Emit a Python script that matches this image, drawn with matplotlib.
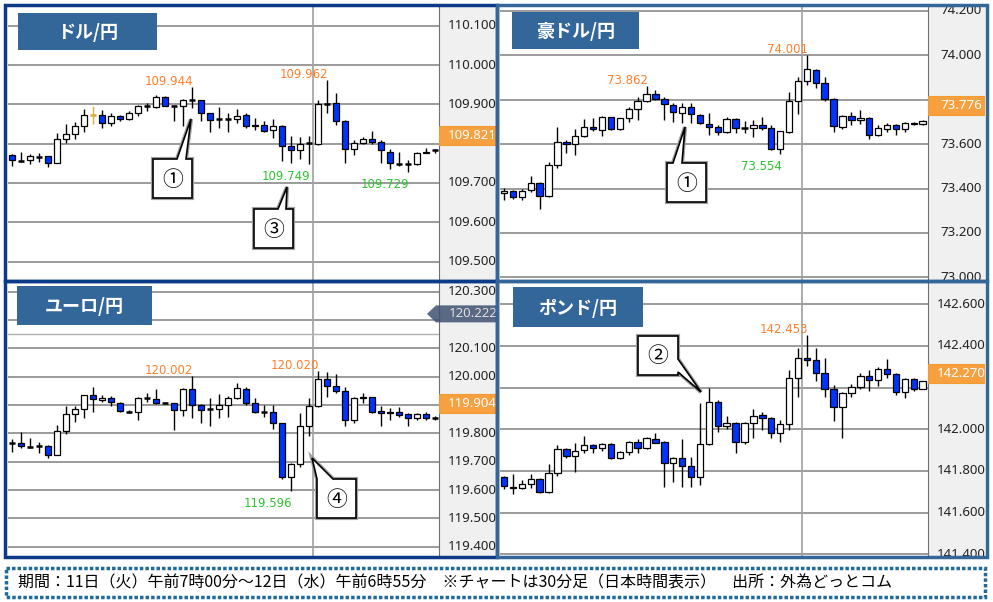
import matplotlib
matplotlib.use('Agg')
import matplotlib.pyplot as plt
from matplotlib.patches import Rectangle, Polygon
from matplotlib.transforms import Affine2D

plt.rcParams['font.family'] = ['Noto Sans CJK JP', 'DejaVu Sans']

# ---- data (30 min bars, 11th 7:00 -> 12th 6:30) ----
usd_o = [109.771, 109.757, 109.759, 109.767, 109.769, 109.750, 109.812, 109.825, 109.844, 109.873,
         109.873, 109.852, 109.871, 109.862, 109.878, 109.895, 109.893, 109.920, 109.895, 109.895,
         109.912, 109.910, 109.878, 109.862, 109.862, 109.862, 109.872, 109.844, 109.848, 109.835,
         109.844, 109.794, 109.783, 109.802, 109.800, 109.901, 109.903, 109.859, 109.786, 109.803,
         109.811, 109.805, 109.780, 109.748, 109.748, 109.748, 109.777, 109.783]
usd_h = [109.774, 109.780, 109.774, 109.777, 109.769, 109.827, 109.850, 109.854, 109.888, 109.895,
         109.886, 109.879, 109.873, 109.882, 109.899, 109.903, 109.924, 109.922, 109.899, 109.913,
         109.944, 109.912, 109.879, 109.893, 109.878, 109.889, 109.878, 109.865, 109.859, 109.862,
         109.848, 109.820, 109.816, 109.820, 109.912, 109.962, 109.929, 109.861, 109.810, 109.818,
         109.833, 109.810, 109.786, 109.780, 109.759, 109.780, 109.789, 109.786]
usd_l = [109.744, 109.754, 109.748, 109.754, 109.740, 109.750, 109.802, 109.811, 109.831, 109.850,
         109.839, 109.844, 109.859, 109.861, 109.871, 109.882, 109.890, 109.895, 109.859, 109.845,
         109.890, 109.859, 109.831, 109.839, 109.831, 109.852, 109.839, 109.835, 109.831, 109.814,
         109.756, 109.752, 109.760, 109.749, 109.797, 109.878, 109.848, 109.752, 109.771, 109.800,
         109.800, 109.752, 109.735, 109.744, 109.729, 109.746, 109.776, 109.777]
usd_c = [109.758, 109.757, 109.769, 109.767, 109.750, 109.812, 109.825, 109.844, 109.873, 109.873,
         109.852, 109.871, 109.862, 109.878, 109.895, 109.895, 109.920, 109.896, 109.895, 109.912,
         109.912, 109.878, 109.861, 109.862, 109.862, 109.871, 109.844, 109.848, 109.833, 109.844,
         109.794, 109.783, 109.800, 109.802, 109.901, 109.901, 109.859, 109.786, 109.802, 109.811,
         109.805, 109.783, 109.750, 109.748, 109.748, 109.776, 109.780, 109.783]
usd_marked = 9

aud_o = [73.378, 73.390, 73.363, 73.393, 73.426, 73.366, 73.506, 73.611, 73.601, 73.637,
         73.679, 73.664, 73.721, 73.667, 73.716, 73.757, 73.796, 73.826, 73.805, 73.776,
         73.742, 73.766, 73.731, 73.691, 73.679, 73.656, 73.712, 73.671, 73.674, 73.686,
         73.674, 73.577, 73.656, 73.796, 73.886, 73.934, 73.874, 73.805, 73.676, 73.727,
         73.709, 73.716, 73.641, 73.667, 73.686, 73.667, 73.697, 73.691]
aud_h = [73.401, 73.393, 73.396, 73.456, 73.431, 73.521, 73.679, 73.619, 73.667, 73.712,
         73.716, 73.727, 73.724, 73.716, 73.769, 73.814, 73.862, 73.844, 73.811, 73.784,
         73.784, 73.787, 73.736, 73.739, 73.686, 73.721, 73.716, 73.706, 73.709, 73.721,
         73.686, 73.661, 73.836, 73.901, 74.001, 73.937, 73.901, 73.808, 73.731, 73.746,
         73.754, 73.721, 73.686, 73.697, 73.691, 73.701, 73.701, 73.709]
aud_l = [73.348, 73.351, 73.348, 73.386, 73.306, 73.363, 73.491, 73.562, 73.551, 73.634,
         73.661, 73.637, 73.664, 73.664, 73.701, 73.709, 73.791, 73.799, 73.709, 73.701,
         73.694, 73.694, 73.691, 73.641, 73.641, 73.649, 73.652, 73.652, 73.634, 73.664,
         73.574, 73.554, 73.652, 73.736, 73.866, 73.851, 73.796, 73.656, 73.667, 73.686,
         73.691, 73.622, 73.637, 73.656, 73.641, 73.656, 73.686, 73.686]
aud_c = [73.390, 73.363, 73.390, 73.426, 73.366, 73.506, 73.611, 73.601, 73.637, 73.679,
         73.667, 73.721, 73.667, 73.716, 73.757, 73.796, 73.826, 73.802, 73.779, 73.746,
         73.766, 73.736, 73.694, 73.679, 73.656, 73.712, 73.671, 73.671, 73.686, 73.674,
         73.577, 73.661, 73.796, 73.886, 73.937, 73.877, 73.802, 73.682, 73.727, 73.709,
         73.716, 73.641, 73.671, 73.686, 73.667, 73.697, 73.691, 73.706]

eur_o = [119.765, 119.767, 119.751, 119.755, 119.755, 119.724, 119.809, 119.867, 119.885, 119.934,
         119.918, 119.924, 119.908, 119.876, 119.876, 119.924, 119.920, 119.908, 119.908, 119.882,
         119.956, 119.900, 119.885, 119.885, 119.900, 119.924, 119.955, 119.906, 119.875, 119.876,
         119.835, 119.647, 119.692, 119.827, 119.898, 119.991, 119.967, 119.949, 119.849, 119.924,
         119.927, 119.879, 119.873, 119.876, 119.867, 119.853, 119.867, 119.856]
eur_h = [119.779, 119.806, 119.782, 119.771, 119.759, 119.829, 119.896, 119.896, 119.934, 119.965,
         119.935, 119.932, 119.912, 119.882, 119.927, 119.941, 119.955, 119.912, 119.908, 119.959,
         120.002, 119.904, 119.924, 119.939, 119.932, 119.979, 119.962, 119.924, 119.900, 119.900,
         119.835, 119.694, 119.871, 119.924, 120.020, 120.018, 120.009, 119.962, 119.929, 119.941,
         119.929, 119.896, 119.888, 119.894, 119.871, 119.871, 119.876, 119.861]
eur_l = [119.735, 119.747, 119.747, 119.729, 119.712, 119.724, 119.798, 119.841, 119.856, 119.876,
         119.912, 119.896, 119.876, 119.871, 119.847, 119.912, 119.904, 119.904, 119.812, 119.861,
         119.853, 119.838, 119.826, 119.853, 119.859, 119.920, 119.900, 119.873, 119.859, 119.814,
         119.638, 119.596, 119.680, 119.791, 119.892, 119.929, 119.941, 119.826, 119.838, 119.908,
         119.873, 119.826, 119.847, 119.859, 119.826, 119.849, 119.849, 119.847]
eur_c = [119.765, 119.756, 119.751, 119.755, 119.724, 119.809, 119.867, 119.885, 119.934, 119.920,
         119.924, 119.911, 119.879, 119.876, 119.924, 119.924, 119.906, 119.908, 119.882, 119.956,
         119.900, 119.882, 119.885, 119.900, 119.924, 119.959, 119.906, 119.875, 119.875, 119.835,
         119.647, 119.692, 119.827, 119.898, 119.991, 119.967, 119.949, 119.849, 119.924, 119.929,
         119.874, 119.871, 119.876, 119.865, 119.853, 119.867, 119.856, 119.856]
eur_extra_line = 120.150

gbp_o = [141.773, 141.725, 141.717, 141.738, 141.760, 141.698, 141.792, 141.904, 141.872, 141.901,
         141.923, 141.909, 141.930, 141.861, 141.890, 141.941, 141.909, 141.952, 141.938, 141.837,
         141.861, 141.824, 141.770, 141.928, 142.130, 142.016, 142.032, 141.938, 142.029, 142.069,
         142.053, 141.981, 142.024, 142.245, 142.341, 142.333, 142.269, 142.192, 142.106, 142.176,
         142.205, 142.258, 142.237, 142.288, 142.264, 142.178, 142.242, 142.192]
gbp_h = [141.776, 141.786, 141.757, 141.786, 141.765, 141.834, 141.925, 141.909, 141.933, 141.968,
         141.930, 141.933, 141.933, 141.894, 141.946, 141.952, 141.965, 141.981, 141.944, 141.869,
         141.952, 141.869, 142.125, 142.197, 142.141, 142.064, 142.037, 142.037, 142.098, 142.085,
         142.058, 142.045, 142.285, 142.389, 142.453, 142.389, 142.341, 142.213, 142.181, 142.218,
         142.272, 142.285, 142.298, 142.336, 142.269, 142.248, 142.248, 142.234]
gbp_l = [141.712, 141.688, 141.712, 141.717, 141.693, 141.693, 141.778, 141.861, 141.794, 141.885,
         141.888, 141.898, 141.856, 141.859, 141.877, 141.885, 141.904, 141.933, 141.725, 141.749,
         141.722, 141.722, 141.733, 141.925, 141.989, 142.000, 141.888, 141.928, 141.957, 141.997,
         141.957, 141.941, 141.997, 142.154, 142.304, 142.234, 142.154, 142.042, 141.960, 142.157,
         142.194, 142.184, 142.208, 142.245, 142.165, 142.149, 142.186, 142.192]
gbp_c = [141.728, 141.717, 141.738, 141.760, 141.698, 141.792, 141.904, 141.872, 141.898, 141.923,
         141.909, 141.930, 141.861, 141.890, 141.941, 141.909, 141.957, 141.936, 141.837, 141.861,
         141.824, 141.770, 141.928, 142.130, 142.016, 142.029, 141.938, 142.029, 142.066, 142.053,
         141.981, 142.024, 142.245, 142.341, 142.333, 142.269, 142.192, 142.106, 142.176, 142.205,
         142.258, 142.237, 142.288, 142.266, 142.178, 142.242, 142.192, 142.234]

# high / low markers: (bar index, price)
usd_highs = [(20, 109.944), (35, 109.962)]
usd_lows = [(33, 109.749), (44, 109.729)]
aud_highs = [(16, 73.862), (34, 74.001)]
aud_lows = [(31, 73.554)]
eur_highs = [(20, 120.002), (34, 120.020)]
eur_lows = [(31, 119.596)]
gbp_highs = [(34, 142.453)]
gbp_lows = []

usd_ticks = [109.5, 109.6, 109.7, 109.8, 109.9, 110.0, 110.1]
aud_ticks = [73.0, 73.2, 73.4, 73.6, 73.8, 74.0, 74.2]
eur_ticks = [119.4, 119.5, 119.6, 119.7, 119.8, 119.9, 120.0, 120.1, 120.2, 120.3]
gbp_ticks = [141.4, 141.6, 141.8, 142.0, 142.2, 142.4, 142.6]

usd_last = 109.821
aud_last = 73.776
eur_last = 119.904
gbp_last = 142.270
eur_ask = 120.222

footer = "期間：11日（火）午前7時00分～12日（水）午前6時55分　※チャートは30分足（日本時間表示）　出所：外為どっとコム"

# ---- drawing ----
W, H = 993, 602
fig = plt.figure(figsize=(W / 100, H / 100), dpi=100)
px = Affine2D().scale(1 / W, -1 / H).translate(0, 1) + fig.transFigure

BLUE = '#0033ff'
NAVY = '#0b3a86'
STEEL = '#336699'
NARROW = dict(family=['Noto Sans', 'DejaVu Sans'], fontstretch='condensed', fontsize=9.5)


def ax_at(l, t, r, b):
    return fig.add_axes([l / W, 1 - b / H, (r - l) / W, (b - t) / H])


def panel(plot_box, strip_box, ylim, xmax, o, h, l, c, ticks, last, highs, lows,
          title, title_box, marked=None):
    ax = ax_at(*plot_box)
    ax.set_xlim(-0.45, xmax)
    ax.set_ylim(*ylim)
    ax.set_xticks([])
    ax.set_yticks([])
    for s in ax.spines.values():
        s.set_visible(False)
    for v in ticks:
        ax.axhline(v, color='#8a8a8a', lw=1.2, zorder=1)
    ax.axvline(33.5, color='#a0a0a0', lw=1.2, zorder=1)

    for i in range(len(o)):
        col = '#e0a838' if i == marked else 'black'
        ax.vlines(i, l[i], h[i], color=col, lw=1.0, zorder=3)
        if o[i] == c[i]:
            ax.hlines(o[i], i - 0.36, i + 0.36, color=col, lw=1.8, zorder=4)
        else:
            face = 'white' if c[i] > o[i] else BLUE
            ax.add_patch(Rectangle((i - 0.36, min(o[i], c[i])), 0.72, abs(c[i] - o[i]),
                                   facecolor=face, edgecolor='black', lw=0.9, zorder=4))

    for i, v in highs:
        ax.annotate(f'{v:.3f}', (i, v), xytext=(1, 4), textcoords='offset points',
                    ha='right', va='center', fontsize=8.5, color='#ff7f2a',
                    family='DejaVu Sans', zorder=6)
    for i, v in lows:
        ax.annotate(f'{v:.3f}', (i, v), xytext=(1, -9), textcoords='offset points',
                    ha='right', va='center', fontsize=8.5, color='#2cc42c',
                    family='DejaVu Sans', zorder=6)

    sx = ax_at(*strip_box)
    sx.set_facecolor('#f0f0f0')
    sx.set_xlim(0, 1)
    sx.set_ylim(*ylim)
    sx.set_xticks([])
    sx.set_yticks([])
    for k, s in sx.spines.items():
        s.set_visible(k == 'left')
    sx.spines['left'].set_color('#707070')
    hh = 9.5 * (ylim[1] - ylim[0]) / (strip_box[3] - strip_box[1])
    for v in ticks:
        # labels that sit under the price box are covered by it
        if abs(v - last) < 2 * hh:
            continue
        sx.text(0.58, v, f'{v:.3f}', ha='center', va='center', color='#222222',
                clip_on=True, **NARROW)
    sx.add_patch(Rectangle((0, last - hh), 1, 2 * hh, facecolor='#f7a040',
                           edgecolor='#f39a30', lw=0.8, zorder=5))
    sx.text(0.58, last, f'{last:.3f}', ha='center', va='center', color='white',
            zorder=6, **NARROW)

    x0, y0, x1, y1 = title_box
    fig.patches.append(Rectangle((x0, y0), x1 - x0, y1 - y0, transform=px,
                                 facecolor=STEEL, edgecolor='none', zorder=2))
    fig.text((x0 + x1) / 2, (y0 + y1) / 2 + 1, title, transform=px, ha='center',
             va='center', color='white', fontsize=13, fontweight='bold', zorder=3)
    return ax, sx


ax1, sx1 = panel((8, 7, 439, 280), (439, 7, 496, 280), (109.453, 110.148), 47.45,
                 usd_o, usd_h, usd_l, usd_c, usd_ticks, usd_last, usd_highs, usd_lows,
                 'ドル/円', (18, 13, 157, 50), marked=usd_marked)
ax2, sx2 = panel((500, 7, 928, 280), (928, 7, 985, 280), (72.988, 74.218), 47.6,
                 aud_o, aud_h, aud_l, aud_c, aud_ticks, aud_last, aud_highs, aud_lows,
                 '豪ドル/円', (512, 12, 639, 49))
ax3, sx3 = panel((8, 283, 439, 556), (439, 283, 496, 556), (119.367, 120.331), 47.45,
                 eur_o, eur_h, eur_l, eur_c, eur_ticks, eur_last, eur_highs, eur_lows,
                 'ユーロ/円', (17, 286, 152, 325))
ax4, sx4 = panel((500, 283, 928, 556), (928, 283, 985, 556), (141.392, 142.702), 47.6,
                 gbp_o, gbp_h, gbp_l, gbp_c, gbp_ticks, gbp_last, gbp_highs, gbp_lows,
                 'ポンド/円', (513, 287, 643, 327))

ax3.axhline(eur_extra_line, color='#b0b0b0', lw=1.0, zorder=1)

# ask marker on the euro strip (hides the 120.200 label)
for t in list(sx3.texts):
    if t.get_text() == '120.200':
        t.remove()
yl = (119.367, 120.331)
yc = 283 + (yl[1] - eur_ask) / (yl[1] - yl[0]) * (556 - 283)
fig.patches.append(Polygon([(427, yc), (436, yc - 8.5), (497, yc - 8.5), (497, yc + 8.5),
                            (436, yc + 8.5)], closed=True, transform=px,
                           facecolor='#3e5070', edgecolor='none', alpha=0.85, zorder=2))
fig.text(473, yc, f'{eur_ask:.3f}', transform=px, ha='center', va='center',
         color='#e0e0e0', zorder=3, **NARROW)

# callouts
callouts = [
    ([(153, 159), (177, 159), (191, 119), (186, 159), (192, 159), (192, 198), (153, 198)], (172.5, 178.5), '①'),
    ([(254, 209), (278, 209), (287, 187), (286, 209), (293, 209), (293, 248), (254, 248)], (273.5, 228.5), '③'),
    ([(667, 163), (673, 163), (685, 127), (682, 163), (706, 163), (706, 202), (667, 202)], (686.5, 182.5), '①'),
    ([(317, 479), (312, 458), (333, 479), (356, 479), (356, 518), (317, 518)], (336.5, 498.5), '④'),
    ([(638, 336), (678, 336), (678, 359), (701, 392), (678, 372), (678, 375), (638, 375)], (658, 355.5), '②'),
]
for pts, (tx, ty), num in callouts:
    fig.patches.append(Polygon(pts, closed=True, transform=px, facecolor='white',
                               edgecolor='#a0a0a0', lw=3.0, zorder=4))
    fig.patches.append(Polygon(pts, closed=True, transform=px, facecolor='white',
                               edgecolor='black', lw=1.2, zorder=4))
    fig.text(tx, ty + 1, num, transform=px, ha='center', va='center', fontsize=15,
             color='black', zorder=5)

# panel borders
for (x0, y0, x1, y1), col in [((5, 5, 497, 281), NAVY), ((5, 281, 497, 557), NAVY),
                              ((497, 5, 987, 281), STEEL), ((497, 281, 987, 557), STEEL)]:
    fig.patches.append(Rectangle((x0, y0), x1 - x0, y1 - y0, transform=px, fill=False,
                                 edgecolor=col, lw=2.5, zorder=6))

# footer
fig.patches.append(Rectangle((6, 568), 979, 29, transform=px, fill=False,
                             edgecolor='#1f6a9a', lw=2.5, linestyle=(0, (1, 0.6)), zorder=6))
fig.text(18, 583, footer, transform=px, ha='left', va='center', fontsize=11.5,
         color='black', zorder=6)

fig.savefig('out.png', dpi=100)
